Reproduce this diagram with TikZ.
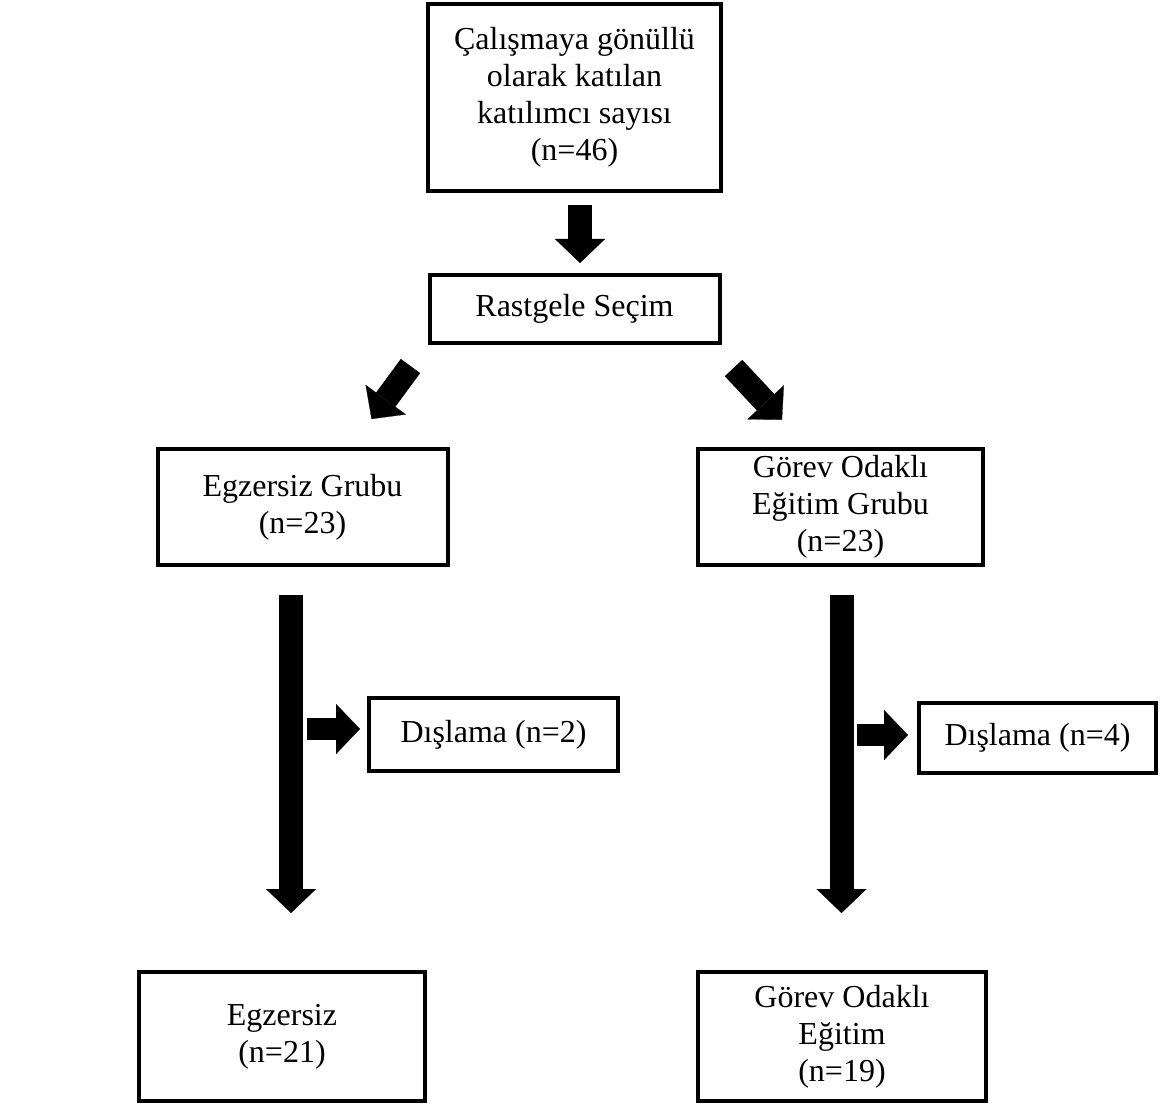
\documentclass[tikz,border=0pt]{standalone}
\usepackage{fontspec}
\setmainfont{Liberation Serif}
\usetikzlibrary{positioning, arrows.meta}
\tikzset{
block/.style={
  draw,
  rectangle,
  line width=2pt,
  minimum height=58pt,
  minimum width=145pt, align=center,
  font=\fontsize{16}{18.5}\selectfont
  },
fat/.style={line width=12pt,-{Triangle[length=12pt,width=25pt,line width=0.1pt]}}
}

\begin{document}
\begin{tikzpicture}[x=0.5pt,y=-0.5pt]
\useasboundingbox (0,0) rectangle (1165,1106);

\node[block, minimum width=146.5pt, minimum height=93.5pt]	(katilimci)	at (574.5,97.5)		{Çalışmaya gönüllü \\ olarak katılan \\ katılımcı sayısı \\ (n=46)};
\node[block, minimum height=34pt]			(secim)		[below=40pt of katilimci]	{Rastgele Seçim};
\node[block]								(egzGrup)	at (302.5,507)		{Egzersiz Grubu \\ (n=23)};
\node[block, minimum width=142.5pt]			(godGrup)	at (840.5,507)		{Görev Odaklı \\ Eğitim Grubu \\ (n=23)};
\node[block, minimum width=124.5pt, minimum height=36.5pt]	(egzDisla)	at (493.5,734.5)	{Dışlama (n=2)};
\node[block, minimum width=118.5pt, minimum height=35pt]	(godDisla)	at (1037.5,738)		{Dışlama (n=4)};
\node[block, minimum width=143pt, minimum height=64.5pt]	(egzSon)	at (282,1036.5)		{Egzersiz \\ (n=21)};
\node[block, minimum width=144pt, minimum height=64.5pt]	(godSon)	at (842,1036.5)		{Görev Odaklı \\ Eğitim \\ (n=19)};

\draw[fat]	([xshift=2.75pt,yshift=-6pt]katilimci.south)	--	([xshift=2.75pt,yshift=5pt]secim.north);
\draw[fat]	([shift={(-17,21)}]secim.south west)	--	([shift={(-78,-28)}]egzGrup.north east);
\draw[fat]	([shift={(12,23)}]secim.south east)		--	([shift={(86,-27)}]godGrup.north west);
\draw[fat]	([shift={(-11.5,28)}]egzGrup.south)		--	([shift={(9,-57)}]egzSon.north);
\draw[fat]	([shift={(1,28)}]godGrup.south)			--	([shift={(-0.5,-57)}]godSon.north);
\draw[fat, line width=11pt]	([shift={(-60,-5.5)}]egzDisla.west)	--	([shift={(-7,-5.5)}]egzDisla.west);
\draw[fat, line width=11pt]	([shift={(-60,-3)}]godDisla.west)	--	([shift={(-9,-3)}]godDisla.west);
\end{tikzpicture}
\end{document}
